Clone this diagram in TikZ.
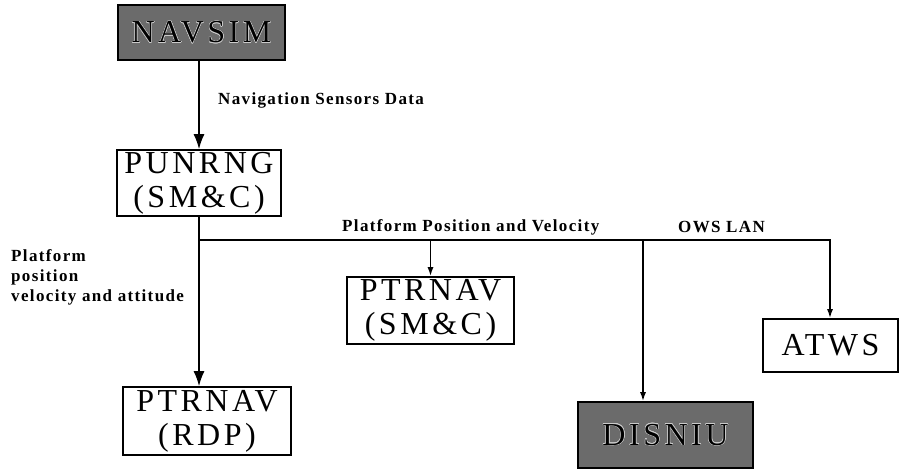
\documentclass[tikz,border=0pt]{standalone}
\usepackage{fontspec}
\setmainfont{Liberation Serif}
\newfontfamily\boxfont[LetterSpace=11]{Liberation Serif}
\newfontfamily\lblfont[LetterSpace=8]{Liberation Serif}
\usepackage{contour}
\contourlength{0.4pt}
\usetikzlibrary{arrows.meta,positioning}

\begin{document}
\begin{tikzpicture}[x=1pt,y=-1pt,
    unit/.style={draw,line width=1.6pt,inner sep=0pt,align=center,
      font=\boxfont\fontsize{32}{34}\selectfont},
    simunit/.style={unit,fill=black!58},
    lbl/.style={inner sep=0pt,font=\lblfont\bfseries\fontsize{17}{20}\selectfont},
    bigtip/.style={line width=1.6pt,-{Latex[length=15pt,width=11pt]}},
    smalltip/.style={line width=1.6pt,-{Latex[length=9pt,width=6pt]}}]
  \useasboundingbox (0,0) rectangle (901,469);
  % units
  \node[simunit,minimum width=167pt,minimum height=55pt] (navsim) at (201.5,32.5) {\contour{black!20}{NAVSIM}};
  \node[unit,minimum width=164pt,minimum height=66pt] (punrng) at (199,183) {PUNRNG\\(SM\&C)};
  \node[unit,minimum width=168pt,minimum height=68pt] (rdp) at (207,421) {PTRNAV\\(RDP)};
  \node[unit,minimum width=167pt,minimum height=67pt] (smc) at (430.5,310.5) {PTRNAV\\(SM\&C)};
  \node[simunit,minimum width=175pt,minimum height=66pt] (disniu) at (665.5,435) {\contour{black!20}{DISNIU}};
  \node[unit,minimum width=135pt,minimum height=53pt] (atws) at (830.5,345.5) {ATWS};
  % OWS LAN bus
  \coordinate (bus) at (199,240);
  \coordinate (drop) at (643,240);
  \coordinate (busend) at (830,240);
  \draw[bigtip] (punrng.north |- navsim.south) -- (punrng.north);
  \draw[bigtip] (punrng.south) -- (punrng.south |- rdp.north);
  \draw[smalltip] (bus) -- (busend) -- (busend |- atws.north);
  \draw[smalltip] (bus -| smc.north) -- (smc.north);
  \draw[smalltip] (drop) -- (drop |- disniu.north);
  % labels
  \node[lbl,anchor=west] (sensors) at (218,100) {Navigation Sensors Data};
  \node[lbl,anchor=west] (pospv) at (342,227) {Platform Position and Velocity};
  \node[lbl,anchor=west] (lan) at (678,227) {OWS LAN};
  \node[lbl,anchor=north west,align=left] (attitude) at (11,249) {Platform\\position\\velocity and attitude};
\end{tikzpicture}
\end{document}
